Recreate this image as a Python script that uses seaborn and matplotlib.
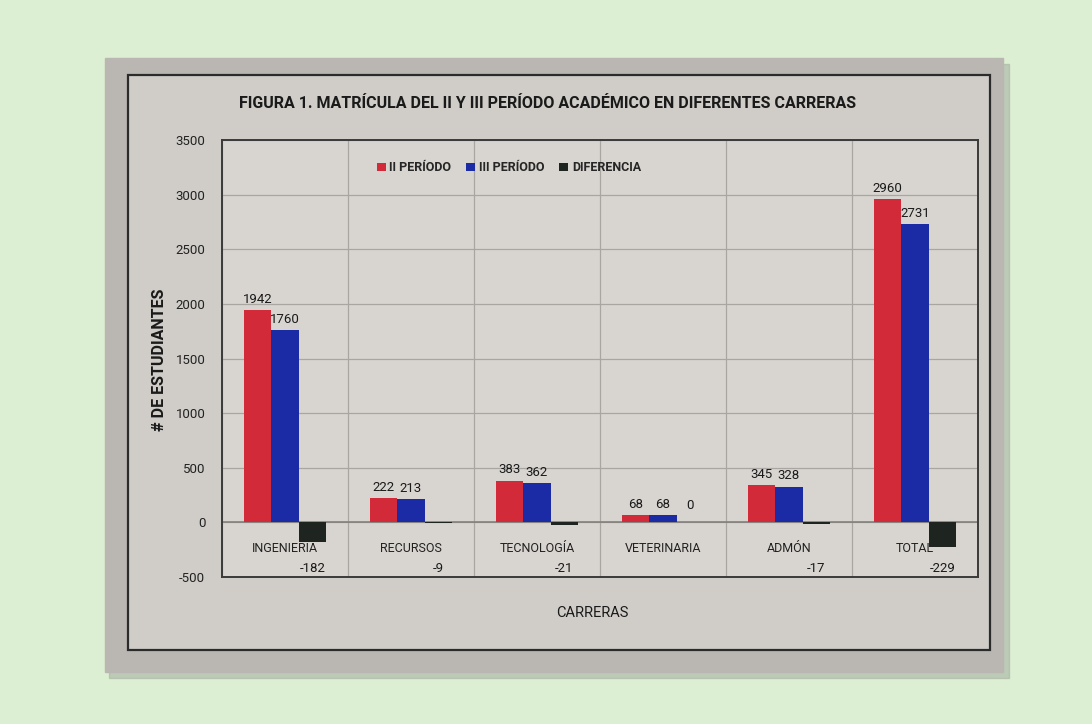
import numpy as np
import pandas as pd
import matplotlib.pyplot as plt
import seaborn as sns
from matplotlib.patches import Rectangle

# %%

carreras = ['INGENIERÍA', 'RECURSOS', 'TECNOLOGÍA', 'VETERINARIA', 'ADMÓN', 'TOTAL']
periodo_ii = [1942, 222, 383, 68, 345, 2960]
periodo_iii = [1760, 213, 362, 68, 328, 2731]
diferencia = [-182, -9, -21, 0, -17, -229]
series = ['II PERÍODO', 'III PERÍODO', 'DIFERENCIA']
colores = ['#d22a38', '#1b2ba6', '#1e2420']
y_ticks = [-500, 0, 500, 1000, 1500, 2000, 2500, 3000, 3500]

df = pd.DataFrame({
    'carrera': carreras * 3,
    'serie': np.repeat(series, len(carreras)),
    'valor': periodo_ii + periodo_iii + diferencia,
})

# %%

sns.set_theme(style='white')
plt.rcParams['font.family'] = ['Roboto', 'DejaVu Sans']

W, H = 1092, 724


def box(x0, y0, x1, y1):
    # pixel box -> figure fraction
    return (x0 / W, 1 - y1 / H), (x1 - x0) / W, (y1 - y0) / H


fig = plt.figure(figsize=(W / 100, H / 100), dpi=100)
fig.patch.set_facecolor('#dcefd2')

# photo of the sheet, its shadow and the chart frame
xy, w, h = box(109, 64, 1009, 678)
fig.add_artist(Rectangle(xy, w, h, transform=fig.transFigure, color='#a7b3a2', alpha=0.6, zorder=-4))
xy, w, h = box(105, 58, 1003, 672)
fig.add_artist(Rectangle(xy, w, h, transform=fig.transFigure, color='#bab6b2', zorder=-3))
xy, w, h = box(128, 75, 990, 650)
fig.add_artist(Rectangle(xy, w, h, transform=fig.transFigure, facecolor='#d0cdc9',
                         edgecolor='#2b2b2b', lw=1.6, zorder=-2))

ax = fig.add_axes([222 / W, 1 - 577 / H, (978 - 222) / W, (577 - 140) / H])
ax.set_facecolor('#d8d5d1')

sns.barplot(data=df, x='carrera', y='valor', hue='serie', palette=colores,
            width=0.65, saturation=1, linewidth=0, ax=ax, zorder=3)

for c in ax.containers[:2]:
    ax.bar_label(c, fontsize=9.5, padding=3, color='#1a1a1a')

# differences: negatives go under the category names, like in the sheet
for p, v in zip(ax.containers[2].patches, diferencia):
    x = p.get_x() + p.get_width() / 2
    y = min(v, -240) if v < 0 else v
    ax.annotate(str(v), (x, y), xytext=(0, -14 if v < 0 else 12), textcoords='offset points',
                ha='center', va='center', fontsize=9.5, color='#1a1a1a')

ax.set_ylim(-500, 3500)
ax.set_yticks(y_ticks)
ax.set_yticklabels([str(t) for t in y_ticks], fontsize=9.5, color='#222222')
ax.set_xlim(-0.5, len(carreras) - 0.5)
ax.set_xticks(range(len(carreras)))
ax.set_xticklabels([])
ax.set_xticks(np.arange(len(carreras) + 1) - 0.5, minor=True)
ax.tick_params(axis='both', which='both', length=0)
ax.tick_params(axis='y', pad=12)
ax.grid(axis='y', color='#a9a6a2', lw=0.9)
ax.grid(axis='x', which='minor', color='#a9a6a2', lw=0.9)
ax.axhline(0, color='#7d7a77', lw=1.1, zorder=2)

for i, name in enumerate(carreras):
    ax.text(i, -240, name, ha='center', va='center', fontsize=9, color='#222222', zorder=4)

for s in ax.spines.values():
    s.set_color('#3a3a3a')
    s.set_linewidth(1.4)

ax.set_xlabel('')
ax.set_ylabel('')
ax.legend(loc='center left', bbox_to_anchor=(0.19, 0.936), ncol=3, frameon=False,
          handlelength=0.7, handleheight=0.7, handletextpad=0.3, columnspacing=1.2,
          prop={'size': 9, 'weight': 'bold'})

fig.text(548 / W, 1 - 104 / H,
         'FIGURA 1. MATRÍCULA DEL II Y III PERÍODO ACADÉMICO EN DIFERENTES CARRERAS',
         ha='center', va='center', fontsize=11.5, weight='bold', color='#1a1a1a')
fig.text(160 / W, 1 - 360 / H, '# DE ESTUDIANTES', rotation=90, ha='center', va='center',
         fontsize=11.5, weight='bold', color='#1a1a1a')
fig.text(592 / W, 1 - 613 / H, 'CARRERAS', ha='center', va='center',
         fontsize=10.5, color='#1a1a1a')

fig.savefig('out.png', dpi=100, facecolor=fig.get_facecolor())
